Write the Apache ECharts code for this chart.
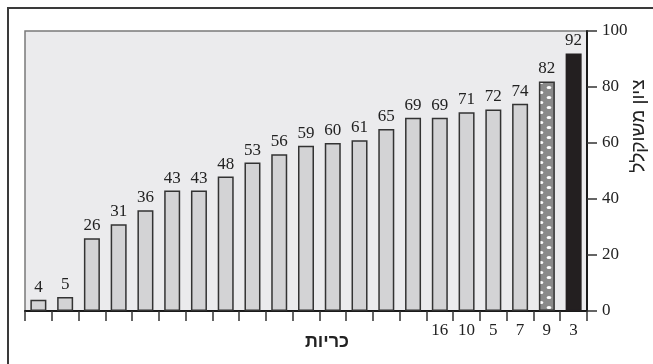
<!DOCTYPE html>
<html>
<head>
<meta charset="utf-8">
<script src="https://cdn.jsdelivr.net/npm/echarts@6/dist/echarts.min.js"></script>
<style>
  html, body { margin: 0; padding: 0; background: #fff; }
  #chart { width: 653px; height: 364px; }
</style>
</head>
<body>
<div id="chart"></div>
<script>
// Pillow scores (weighted), sorted ascending; only the last six pillows carry a label
var categories = ['', '', '', '', '', '', '', '', '', '', '', '', '', '', '', '16', '10', '5', '7', '9', '3'];
var scores = [4, 5, 26, 31, 36, 43, 43, 48, 53, 56, 59, 60, 61, 65, 69, 69, 71, 72, 74, 82, 92];
var yTicks = [0, 20, 40, 60, 80, 100];
var yTitle = 'ציון משוקלל';
var xTitle = 'כריות';

var SERIF = '"Liberation Serif", "Times New Roman", serif';

// dotted fill for the runner-up bar
function dotPattern() {
  var c = document.createElement('canvas');
  c.width = 16; c.height = 10;
  var g = c.getContext('2d');
  g.fillStyle = '#8a8a8a';
  g.fillRect(0, 0, 16, 10);
  g.fillStyle = '#ffffff';
  g.beginPath(); g.ellipse(13, 2.5, 2.4, 1.5, 0, 0, Math.PI * 2); g.fill();
  g.beginPath(); g.ellipse(5, 7.5, 2.4, 1.5, 0, 0, Math.PI * 2); g.fill();
  return { image: c, repeat: 'repeat' };
}

var barData = scores.map(function (v, i) {
  var item = { value: v };
  if (i === scores.length - 2) {
    item.itemStyle = { color: dotPattern(), borderColor: '#333', borderWidth: 1.5 };
  } else if (i === scores.length - 1) {
    item.itemStyle = { color: '#231f20', borderColor: '#231f20', borderWidth: 1.5 };
  }
  return item;
});

var chart = echarts.init(document.getElementById('chart'), null, { renderer: 'canvas' });
chart.setOption({
  animation: false,
  backgroundColor: '#ffffff',
  grid: {
    left: 25, right: 66, top: 31, bottom: 53,
    show: true, backgroundColor: '#ebebed', borderColor: '#7a7a7a', borderWidth: 1.5
  },
  xAxis: {
    type: 'category',
    data: categories,
    boundaryGap: true,
    axisLine: { show: true, lineStyle: { color: '#1a1a1a', width: 2 } },
    axisTick: { show: true, interval: 0, length: 10, lineStyle: { color: '#333', width: 1.5 } },
    axisLabel: { interval: 0, margin: 11, fontFamily: SERIF, fontSize: 17, color: '#222' },
    splitLine: { show: false }
  },
  yAxis: {
    type: 'value',
    position: 'right',
    min: yTicks[0], max: yTicks[yTicks.length - 1], interval: 20,
    axisLine: { show: true, lineStyle: { color: '#1a1a1a', width: 2 } },
    axisTick: { show: true, inside: false, length: 10, lineStyle: { color: '#333', width: 1.5 } },
    axisLabel: { margin: 15, fontFamily: SERIF, fontSize: 17, color: '#222' },
    splitLine: { show: false }
  },
  series: [{
    type: 'bar',
    data: barData,
    barWidth: 16,
    itemStyle: { color: '#d3d3d5', borderColor: '#333', borderWidth: 1.5 },
    label: {
      show: true, position: 'top', distance: 4,
      fontFamily: SERIF, fontSize: 17, color: '#222'
    }
  }],
  graphic: [
    {
      type: 'rect', silent: true, z: 100,
      shape: { x: 8, y: 8, width: 720, height: 420 },
      style: { fill: null, stroke: '#3a3a3a', lineWidth: 2 }
    },
    {
      type: 'text', silent: true,
      x: 639, y: 126, rotation: Math.PI / 2,
      style: {
        text: yTitle, fontFamily: '"Liberation Sans", Arial, sans-serif', fontSize: 19, fill: '#222',
        align: 'center', verticalAlign: 'middle'
      }
    },
    {
      type: 'text', silent: true,
      x: 327, y: 342,
      style: {
        text: xTitle, fontFamily: '"Liberation Sans", Arial, sans-serif', fontWeight: 'bold',
        fontSize: 18, fill: '#222', align: 'center', verticalAlign: 'middle'
      }
    }
  ]
});
</script>
</body>
</html>
